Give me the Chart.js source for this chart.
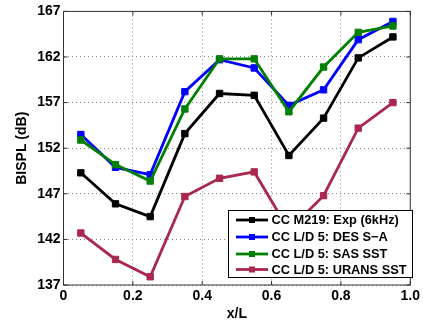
<!DOCTYPE html>
<html>
<head>
<meta charset="utf-8">
<script src="https://cdn.jsdelivr.net/npm/chart.js@4"></script>
<style>
    body { margin: 0; background: white; }
    #wrap { width: 423px; height: 324px; }
</style>
</head>
<body>
<div id="wrap"><canvas id="grafico" width="423" height="324"></canvas></div>
<script>
    // dati
    const posX = [0.05, 0.15, 0.25, 0.35, 0.45, 0.55, 0.65, 0.75, 0.85, 0.95];
    const expM219 = [149.3, 145.9, 144.5, 153.6, 158.0, 157.8, 151.2, 155.3, 161.9, 164.2];
    const desSA = [153.5, 149.9, 149.1, 158.2, 161.7, 160.8, 156.7, 158.4, 163.9, 165.9];
    const sasSST = [152.9, 150.2, 148.4, 156.3, 161.8, 161.8, 156.0, 160.9, 164.7, 165.4];
    const uransSST = [142.7, 139.8, 137.9, 146.7, 148.7, 149.4, 143.0, 146.8, 154.2, 157.0];
    const etichette = ["CC M219: Exp (6kHz)", "CC L/D 5: DES S\u2212A", "CC L/D 5: SAS SST", "CC L/D 5: URANS SST"];
    const colori = ["#000000", "#0000ff", "#008000", "#aa2850"];
    const serie = [expM219, desSA, sasSST, uransSST];

    const font = "'Liberation Sans', Arial, sans-serif";

    function punti(valori){
        var p = [];
        for(var i=0; i<posX.length; i++){
            p.push({x: posX[i], y: valori[i]});
        }
        return p;
    }

    var datasets = [];
    for(var i=0; i<serie.length; i++){
        datasets.push({
            label: etichette[i],
            data: punti(serie[i]),
            borderColor: colori[i],
            backgroundColor: colori[i],
            borderWidth: 2.8,
            pointStyle: 'rect',
            pointRadius: 4.5,
            pointBorderWidth: 1,
            order: serie.length - i
        });
    }

    // cornice + tacche interne + legenda dentro il grafico
    const cornice = {
        id: 'cornice',
        afterDraw(chart){
            const ctx = chart.ctx;
            const a = chart.chartArea;
            const sx = chart.scales.x, sy = chart.scales.y;
            ctx.save();
            ctx.strokeStyle = '#333';
            ctx.lineWidth = 1;
            ctx.strokeRect(a.left, a.top, a.right - a.left, a.bottom - a.top);
            ctx.beginPath();
            sx.ticks.forEach(function(t){
                var px = sx.getPixelForValue(t.value);
                ctx.moveTo(px, a.bottom); ctx.lineTo(px, a.bottom - 4);
                ctx.moveTo(px, a.top); ctx.lineTo(px, a.top + 4);
            });
            sy.ticks.forEach(function(t){
                var py = sy.getPixelForValue(t.value);
                ctx.moveTo(a.left, py); ctx.lineTo(a.left + 4, py);
                ctx.moveTo(a.right, py); ctx.lineTo(a.right - 4, py);
            });
            ctx.stroke();

            // legenda
            var lx = 228.5, ly = 210.5, lw = 184, lh = 67;
            ctx.fillStyle = 'white';
            ctx.fillRect(lx, ly, lw, lh);
            ctx.strokeStyle = '#000';
            ctx.strokeRect(lx, ly, lw, lh);
            var righe = [220, 237, 254, 269.5];
            ctx.font = 'bold 12.8px ' + font;
            ctx.textBaseline = 'middle';
            for(var i=0; i<etichette.length; i++){
                ctx.strokeStyle = colori[i];
                ctx.fillStyle = colori[i];
                ctx.lineWidth = 2.8;
                ctx.beginPath();
                ctx.moveTo(236, righe[i]); ctx.lineTo(268, righe[i]);
                ctx.stroke();
                ctx.fillRect(249, righe[i] - 3, 6, 6);
                ctx.fillStyle = '#000';
                ctx.fillText(etichette[i], 271.5, righe[i] + 0.5);
            }
            ctx.restore();
        }
    };

    new Chart("grafico", {
        type: 'line',
        data: { datasets: datasets },
        plugins: [cornice],
        options: {
            responsive: false,
            animation: false,
            layout: { padding: { left: 0, top: 7, right: 8, bottom: 0 } },
            plugins: { legend: { display: false }, tooltip: { enabled: false } },
            scales: {
                x: {
                    type: 'linear',
                    min: 0, max: 1,
                    ticks: { stepSize: 0.2, color: '#000', padding: 3, font: { family: font, size: 14, weight: 'bold' } },
                    grid: { color: '#888', lineWidth: 1, drawTicks: false },
                    border: { display: false, dash: [1, 3] },
                    title: { display: true, text: 'x/L', color: '#000', padding: { top: 0, bottom: 1 }, font: { family: font, size: 14, weight: 'bold' } },
                    afterFit(s){ s.height = 39; }
                },
                y: {
                    min: 137, max: 167,
                    ticks: { stepSize: 5, color: '#000', padding: 3, font: { family: font, size: 14, weight: 'bold' } },
                    grid: { color: '#888', lineWidth: 1, drawTicks: false },
                    border: { display: false, dash: [1, 3] },
                    title: { display: true, text: 'BISPL (dB)', color: '#000', padding: { top: 14, bottom: 0 }, font: { family: font, size: 14, weight: 'bold' } },
                    afterFit(s){ s.width = 63.5; }
                }
            }
        }
    });
</script>
</body>
</html>
